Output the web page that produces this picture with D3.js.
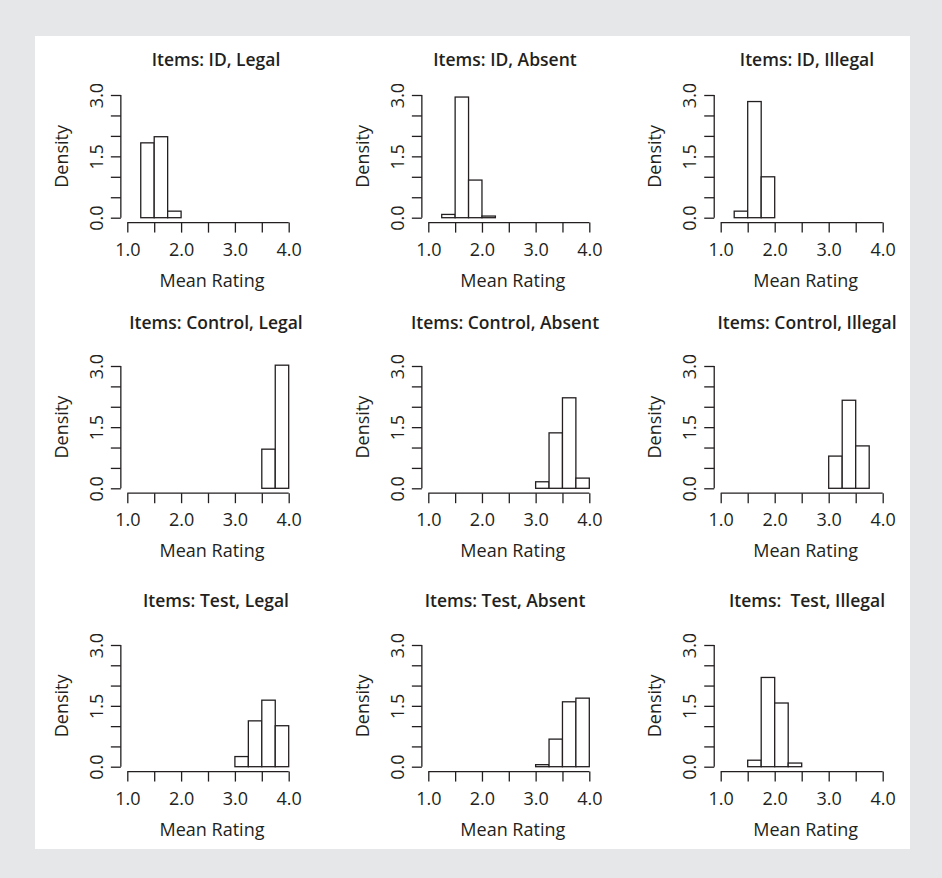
<!DOCTYPE html>
<html>
<head>
<meta charset="utf-8">
<script src="https://cdn.jsdelivr.net/npm/d3@7"></script>
<style>
  html, body { margin: 0; padding: 0; background: #e6e7e8; }
  svg { display: block; }
  text { font-family: "Open Sans", "Noto Sans", sans-serif; fill: #231f20; }
</style>
</head>
<body>
<svg id="chart" width="942" height="878"></svg>
<script>
// ---------- data ----------
const binEdges = [1.0, 1.25, 1.5, 1.75, 2.0, 2.25, 2.5, 2.75, 3.0, 3.25, 3.5, 3.75, 4.0];
const xTickValues = [1.0, 1.5, 2.0, 2.5, 3.0, 3.5, 4.0];
const xTickLabels = ["1.0", "2.0", "3.0", "4.0"];
const yTickValues = [0.0, 0.5, 1.0, 1.5, 2.0, 2.5, 3.0];
const yTickLabels = ["0.0", "1.5", "3.0"];

const panelTitles = [
  "Items: ID, Legal", "Items: ID, Absent", "Items: ID, Illegal",
  "Items: Control, Legal", "Items: Control, Absent", "Items: Control, Illegal",
  "Items: Test, Legal", "Items: Test, Absent", "Items:  Test, Illegal"
];

const idLegal        = [0, 1.83, 1.98, 0.16, 0, 0, 0, 0, 0, 0, 0, 0];
const idAbsent       = [0, 0.08, 2.95, 0.92, 0.04, 0, 0, 0, 0, 0, 0, 0];
const idIllegal      = [0, 0.16, 2.84, 1.00, 0, 0, 0, 0, 0, 0, 0, 0];
const controlLegal   = [0, 0, 0, 0, 0, 0, 0, 0, 0, 0, 0.96, 3.02];
const controlAbsent  = [0, 0, 0, 0, 0, 0, 0, 0, 0.16, 1.36, 2.22, 0.25];
const controlIllegal = [0, 0, 0, 0, 0, 0, 0, 0, 0.79, 2.16, 1.04, 0];
const testLegal      = [0, 0, 0, 0, 0, 0, 0, 0, 0.25, 1.13, 1.64, 1.01];
const testAbsent     = [0, 0, 0, 0, 0, 0, 0, 0, 0.05, 0.68, 1.60, 1.69];
const testIllegal    = [0, 0, 0.16, 2.20, 1.57, 0.09, 0, 0, 0, 0, 0, 0];

const panelDensities = [
  idLegal, idAbsent, idIllegal,
  controlLegal, controlAbsent, controlIllegal,
  testLegal, testAbsent, testIllegal
];

const xLabel = "Mean Rating";
const yLabel = "Density";

// ---------- layout ----------
const colX1 = [127.3, 428.3, 720.7];   // pixel of x = 1.0
const colX4 = [288.7, 589.3, 882.7];   // pixel of x = 4.0
const rowY0 = [217.7, 488.3, 766.7];   // pixel of density 0
const rowY3 = [95, 366, 645];          // pixel of density 3
const titleY = [66, 329, 607];
const titleX = [216, 505, 807];

const svg = d3.select("#chart");
svg.append("rect").attr("x", 35).attr("y", 36).attr("width", 875).attr("height", 813).attr("fill", "#ffffff");

const ink = "#231f20";
const tickLen = 10;
const fs = "18px";

panelDensities.forEach((dens, i) => {
  const r = Math.floor(i / 3), c = i % 3;
  const x = d3.scaleLinear().domain([1, 4]).range([colX1[c], colX4[c]]);
  const y = d3.scaleLinear().domain([0, 3]).range([rowY0[r], rowY3[r]]);
  const g = svg.append("g");

  // bars
  const bins = dens.map((d, k) => ({ x0: binEdges[k], x1: binEdges[k + 1], d }));
  g.selectAll("rect.bar").data(bins).join("rect")
    .attr("class", "bar")
    .attr("x", b => x(b.x0))
    .attr("width", b => x(b.x1) - x(b.x0))
    .attr("y", b => y(b.d))
    .attr("height", b => y(0) - y(b.d))
    .attr("fill", "#ffffff")
    .attr("stroke", ink)
    .attr("stroke-width", 1.3);

  // x axis (R style: offset 4% below)
  const xAxisY = y(-0.12);
  const xa = g.append("g").attr("transform", `translate(0,${xAxisY})`)
    .call(d3.axisBottom(x).tickValues(xTickValues).tickSize(tickLen).tickSizeOuter(0)
      .tickFormat(v => xTickLabels.includes(v.toFixed(1)) ? v.toFixed(1) : ""));
  xa.select(".domain").attr("stroke", ink).attr("stroke-width", 1.3).attr("d", `M${x(1)},0H${x(4)}`);
  xa.selectAll(".tick line").attr("stroke", ink).attr("stroke-width", 1.3);
  xa.selectAll(".tick text").attr("y", 0).attr("dy", null)
    .attr("transform", "translate(0,26)").attr("dominant-baseline", "central")
    .style("font-size", fs).style("font-family", "Open Sans").attr("fill", ink);

  // y axis
  const yAxisX = x(0.88);
  const ya = g.append("g").attr("transform", `translate(${yAxisX},0)`)
    .call(d3.axisLeft(y).tickValues(yTickValues).tickSize(tickLen).tickSizeOuter(0)
      .tickFormat(v => yTickLabels.includes(v.toFixed(1)) ? v.toFixed(1) : ""));
  ya.select(".domain").attr("stroke", ink).attr("stroke-width", 1.3).attr("d", `M0,${y(0)}V${y(3)}`);
  ya.selectAll(".tick line").attr("stroke", ink).attr("stroke-width", 1.3);
  ya.selectAll(".tick text").attr("x", 0).attr("dy", null)
    .attr("transform", "translate(-25,0) rotate(-90)")
    .attr("text-anchor", "middle").attr("dominant-baseline", "central")
    .style("font-size", fs).style("font-family", "Open Sans").attr("fill", ink);

  // labels
  g.append("text")
    .attr("x", (x(1) + x(4)) / 2 + 4).attr("y", xAxisY + 57)
    .attr("text-anchor", "middle").attr("dominant-baseline", "central")
    .style("font-size", fs).text(xLabel);
  g.append("text")
    .attr("transform", `translate(${yAxisX - 60},${(y(0) + y(3)) / 2}) rotate(-90)`)
    .attr("text-anchor", "middle").attr("dominant-baseline", "central")
    .style("font-size", fs).text(yLabel);
  g.append("text")
    .attr("x", titleX[c]).attr("y", titleY[r])
    .attr("text-anchor", "middle")
    .style("font-size", "17.5px").style("font-weight", "600").style("white-space", "pre")
    .attr("xml:space", "preserve")
    .text(panelTitles[i]);
});
</script>
</body>
</html>
